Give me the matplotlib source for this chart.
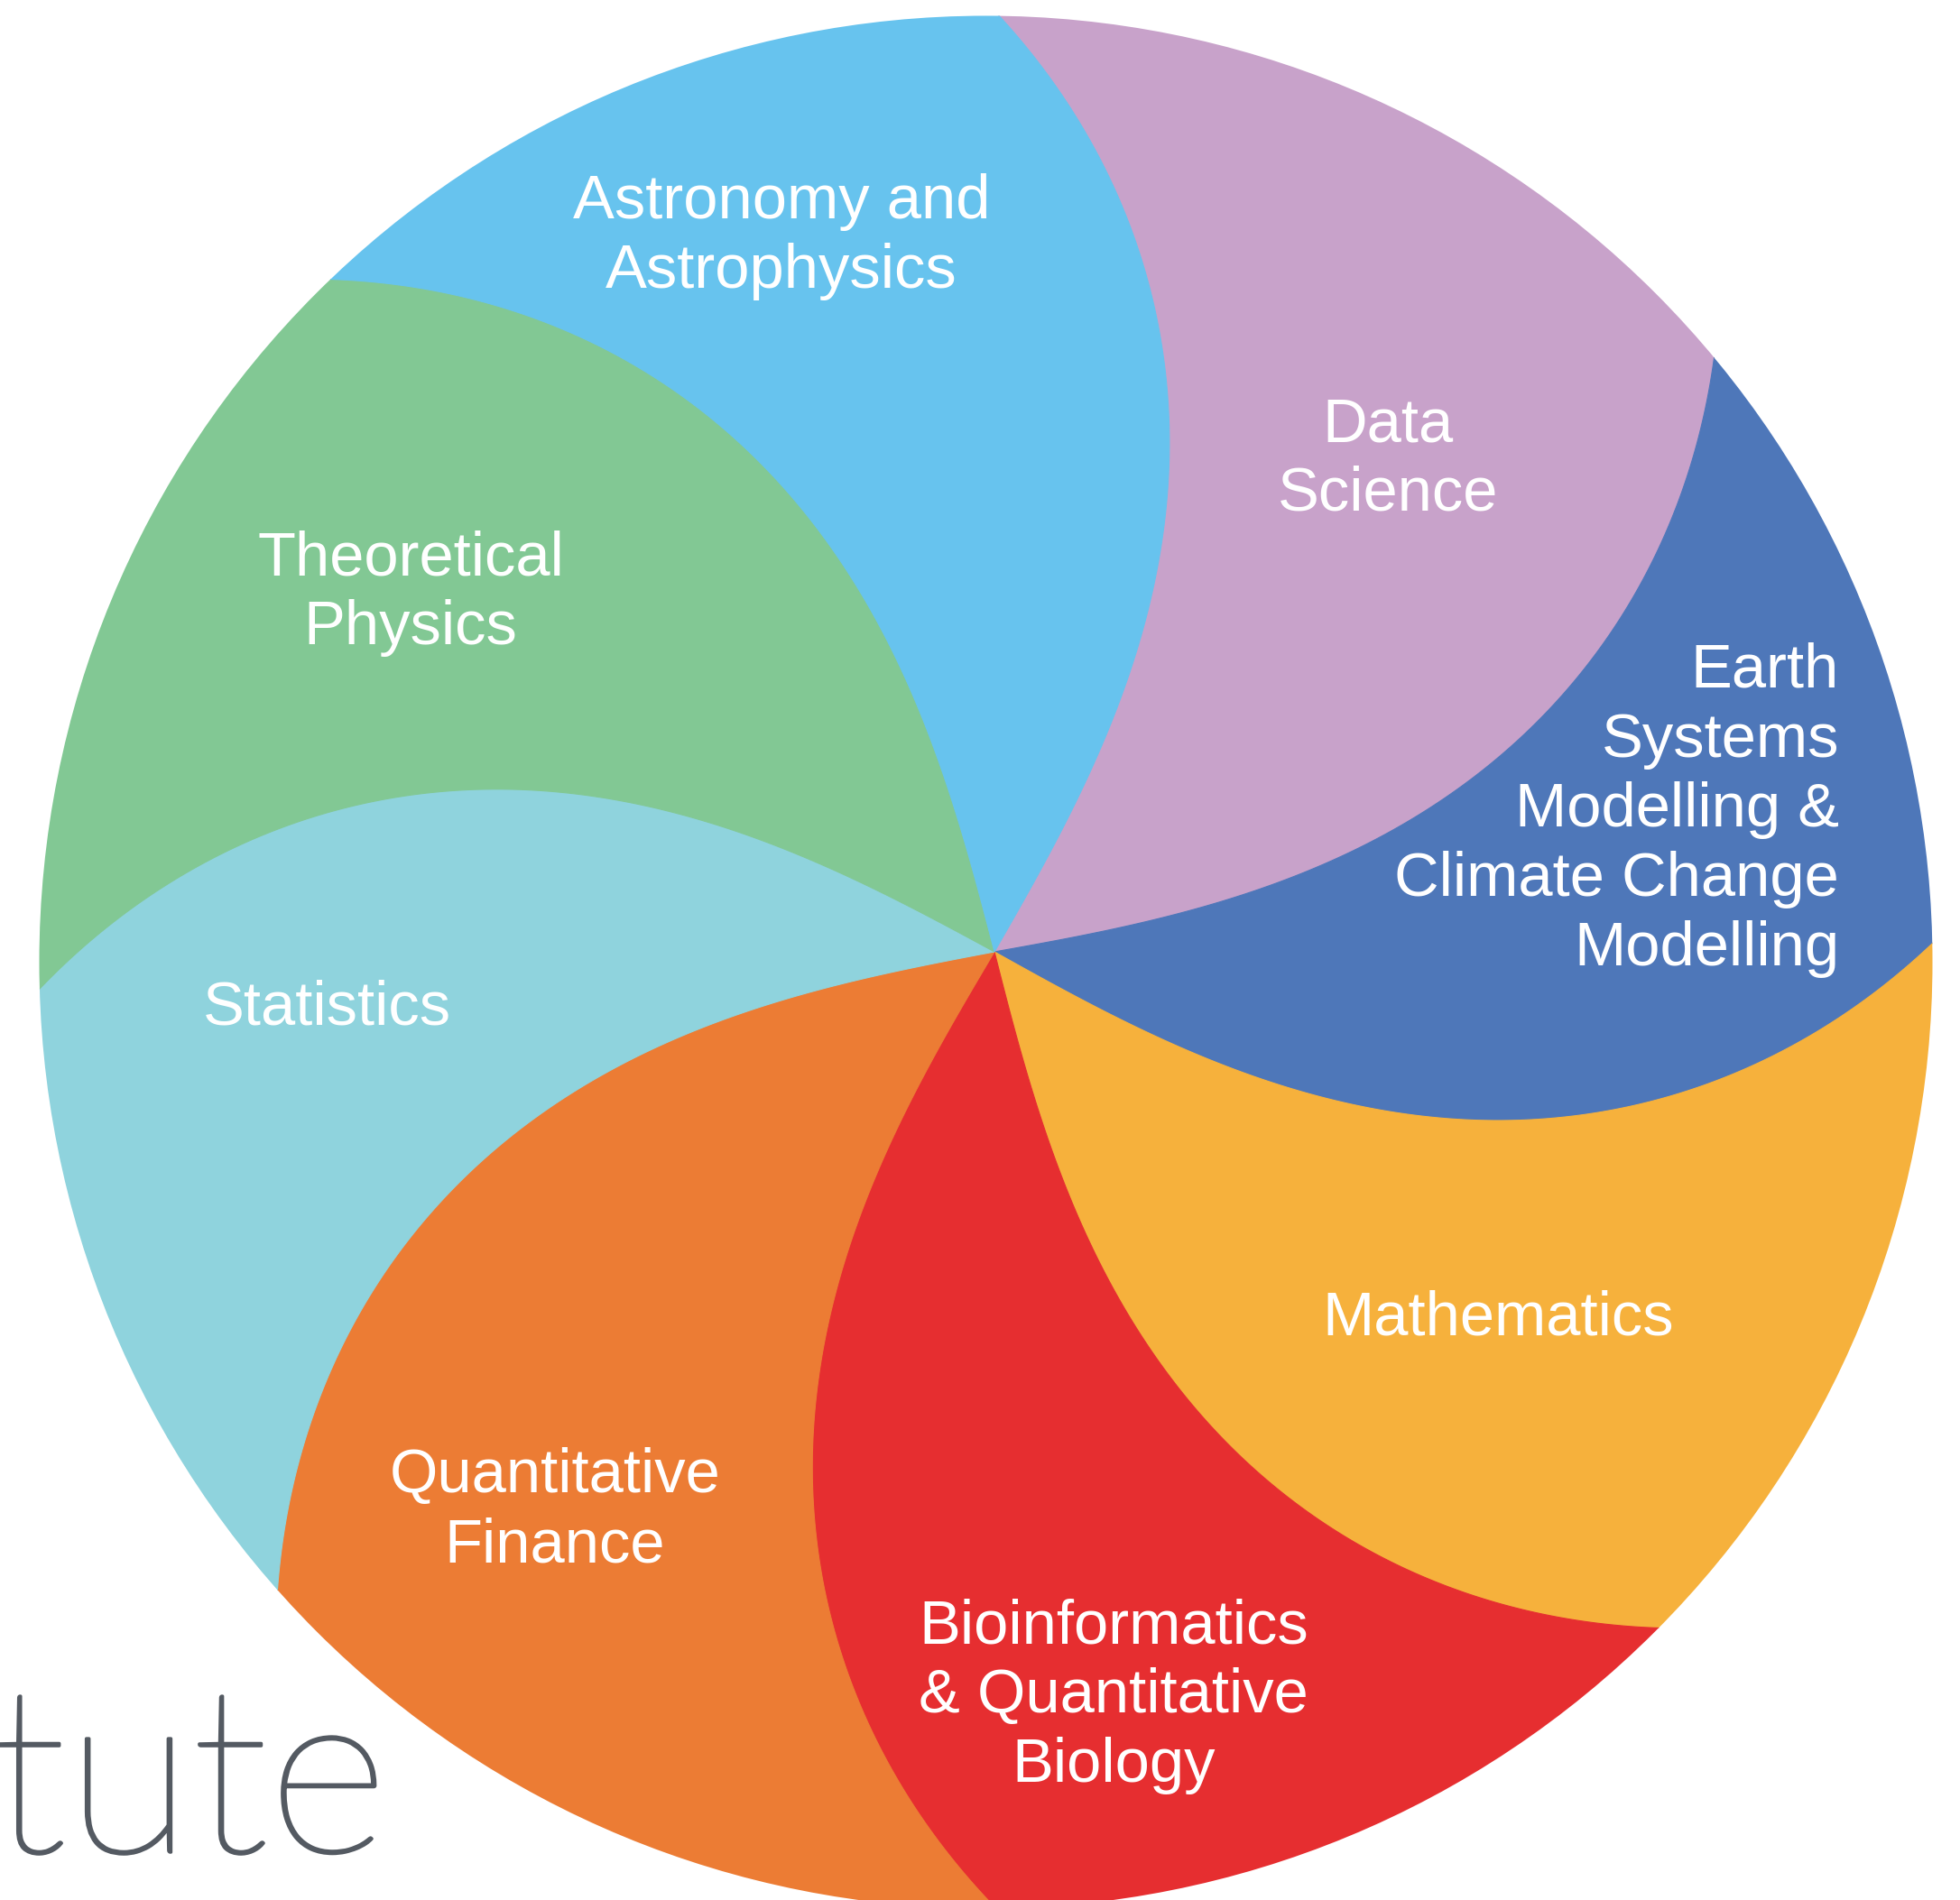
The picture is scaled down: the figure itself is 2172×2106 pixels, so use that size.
import numpy as np
import matplotlib
matplotlib.use("Agg")
import matplotlib.pyplot as plt
from matplotlib.patches import Polygon, Circle
import matplotlib.patheffects as pe

# ---- data (clockwise from the top) ----
categories = ["Data\nScience",
              "Earth\nSystems\nModelling &\nClimate Change\nModelling",
              "Mathematics",
              "Bioinformatics\n& Quantitative\nBiology",
              "Quantitative\nFinance",
              "Statistics",
              "Theoretical\nPhysics",
              "Astronomy and\nAstrophysics"]
sizes_deg = [50.0, 39.3, 46.6, 44.9, 48.6, 39.2, 47.0, 44.4]
start_angle = 90.1
colors = ["#C8A2CA", "#4E77B9", "#F6B13C", "#E62E30",
          "#EC7C34", "#8FD3DD", "#82C894", "#67C3EE"]

# ---- layout / style ----
W, H = 2172, 2106
swirl_c = (1102.0, 1055.0)
circ_c = (1092.5, 1066.5)
circ_r = 1049.0
R0 = 1045.0
twist = 30.0        # degrees of lag at the centre
power = 1.8
label_pos = [(1538, 489, "center"), (2038, 762, "right"), (1660, 1479, "center"),
             (1234, 1821, "center"), (615, 1654, "center"), (362, 1135, "center"),
             (455, 637, "center"), (866, 242, "center")]
line_step = 77.0
fs = 49.5

fig = plt.figure(figsize=(W / 100, H / 100), dpi=100)
ax = fig.add_axes([0, 0, 1, 1])
ax.set_xlim(0, W)
ax.set_ylim(H, 0)
ax.axis("off")


def boundary(theta_rim, n=240, rmax=1.15):
    t = np.linspace(0, rmax, n)
    th = np.radians(theta_rim - twist * (1 - t ** power))
    r = t * R0
    return np.column_stack([swirl_c[0] + r * np.cos(th), swirl_c[1] - r * np.sin(th)])


clip = Circle(circ_c, circ_r, transform=ax.transData)
edges = start_angle - np.concatenate([[0], np.cumsum(sizes_deg)])
rmax = 1.15
d_out = -twist * (1 - rmax ** power)
for k, (lab, col) in enumerate(zip(categories, colors)):
    a0, a1 = edges[k], edges[k + 1]
    b0 = boundary(a0, rmax=rmax)
    b1 = boundary(a1, rmax=rmax)[::-1]
    arc_th = np.radians(np.linspace(a0 + d_out, a1 + d_out, 100))
    arc = np.column_stack([swirl_c[0] + rmax * R0 * np.cos(arc_th),
                           swirl_c[1] - rmax * R0 * np.sin(arc_th)])
    poly = Polygon(np.vstack([b0, arc, b1]), closed=True, facecolor=col,
                   edgecolor=col, linewidth=0.8, antialiased=True)
    ax.add_patch(poly)
    poly.set_clip_path(clip)

for lab, (x, y, ha) in zip(categories, label_pos):
    for i, line in enumerate(lab.split("\n")):
        ax.text(x, y + i * line_step, line, ha=ha, va="baseline",
                color="white", fontsize=fs, family="Liberation Sans")

ax.text(430, 2053, "tute", ha="right", va="baseline", color="#545A62",
        fontsize=185, family="Lato", fontweight="light",
        path_effects=[pe.withStroke(linewidth=2.5, foreground="#545A62")])

fig.savefig("out.png", dpi=100)
